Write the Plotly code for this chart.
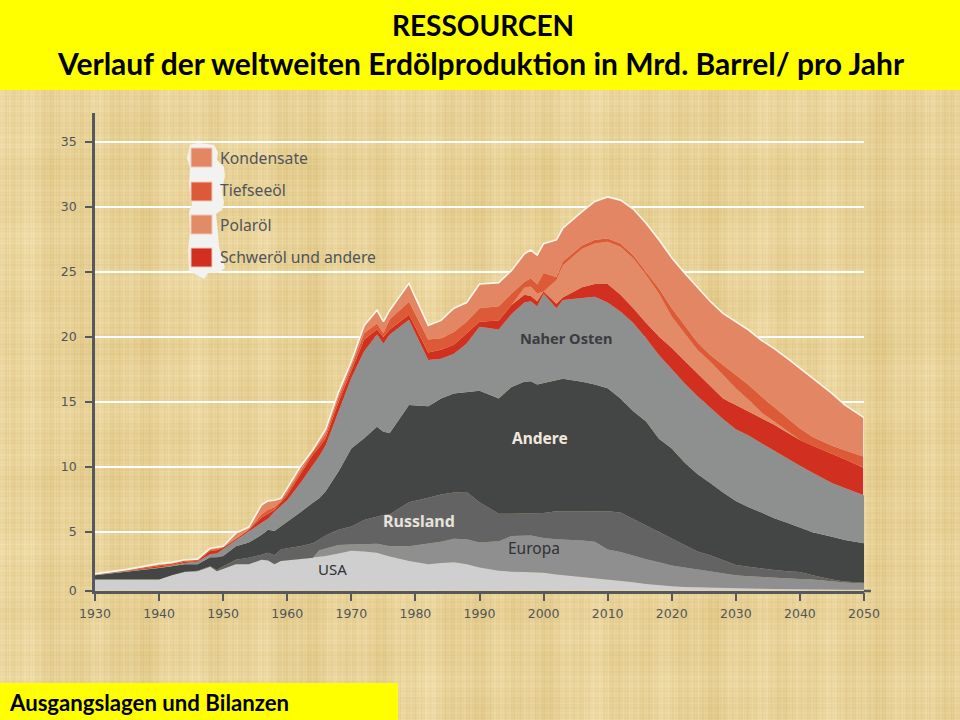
import base64, struct, zlib
import numpy as np
import plotly.graph_objects as go

years = [1930,1935,1940,1942,1944,1946,1948,1949,1950,1952,1954,1956,1957,1958,1959,1960,1962,1964,1965,1966,
         1968,1970,1972,1974,1975,1976,1979,1982,1984,1986,1988,1990,1993,1995,1997,1998,1999,2000,2002,2003,
         2006,2008,2010,2012,2014,2016,2018,2020,2022,2024,2026,2028,2030,2032,2034,2036,2038,2040,2042,2045,
         2047,2050]

# Upper edge of each band (height above the base line)
usa_top = [.85,.85,.86,1.2,1.45,1.5,1.85,1.5,1.7,2.05,2.05,2.4,2.35,2.05,2.3,2.35,2.45,2.55,2.6,2.7,
           2.9,3.1,3.05,2.95,2.8,2.65,2.3,2.05,2.15,2.2,2.05,1.8,1.55,1.47,1.45,1.42,1.4,1.38,1.25,1.2,
           1.05,.95,.87,.75,.65,.5,.4,.33,.28,.25,.22,.18,.17,.15,.13,.12,.1,.1,.08,.07,
           .06,.05]
europa_top = [.85,.85,.86,1.2,1.45,1.5,1.85,1.5,1.7,2.05,2.05,2.4,2.35,2.05,2.3,2.35,2.45,2.55,3.15,3.3,
              3.55,3.6,3.62,3.65,3.55,3.45,3.45,3.65,3.8,4.05,4.0,3.75,3.85,4.25,4.3,4.3,4.2,4.1,4.0,3.98,
              3.9,3.8,3.2,3.0,2.7,2.45,2.2,1.95,1.8,1.65,1.45,1.3,1.2,1.12,1.08,1.02,.96,.9,.85,.7,
              .63,.55]
russland_top = [.85,.85,.86,1.2,1.47,1.55,1.9,1.6,1.9,2.4,2.55,2.8,2.95,2.75,3.2,3.3,3.45,3.7,4.0,4.3,
                4.75,5.0,5.5,5.8,5.9,5.95,6.9,7.25,7.5,7.65,7.7,6.9,6.0,6.0,6.0,6.0,6.0,6.05,6.2,6.2,
                6.2,6.2,6.2,6.1,5.6,5.1,4.6,4.1,3.55,3.05,2.75,2.35,2.0,1.85,1.7,1.6,1.5,1.45,1.2,.85,
                .7,.6]
andere_top = [1.2,1.45,1.75,1.9,2.05,2.05,2.6,2.6,2.7,3.45,3.75,4.35,4.75,4.65,5.0,5.4,6.1,6.85,7.2,7.75,
              9.3,11.1,11.9,12.8,12.4,12.3,14.5,14.4,15.0,15.4,15.5,15.6,15.0,15.9,16.3,16.35,16.1,16.2,16.45,16.55,
              16.3,16.1,15.8,15.0,14.0,13.2,11.85,11.1,10.0,9.1,8.4,7.65,7.0,6.5,6.1,5.65,5.3,4.9,4.55,4.2,
              3.95,3.7]
osten_top = [1.25,1.5,1.8,1.95,2.15,2.25,2.85,2.9,3.25,3.95,4.65,5.3,5.6,6.15,6.6,7.05,8.35,9.8,10.5,11.35,
             14.0,16.6,18.7,20.0,19.3,20.0,21.15,18.0,18.1,18.5,19.3,20.6,20.4,21.6,22.5,22.6,22.2,23.2,22.05,22.7,
             22.85,22.95,22.5,21.8,20.9,19.7,18.4,17.3,16.2,15.2,14.3,13.4,12.6,12.1,11.5,10.9,10.3,9.75,9.2,8.4,
             8.0,7.45]
schwer_top = [1.3,1.55,1.9,2.0,2.25,2.3,3.1,3.15,3.35,4.0,4.75,5.7,6.0,6.3,6.9,7.45,9.05,10.6,11.2,11.9,
              14.7,17.2,19.6,20.4,19.8,20.4,21.55,18.6,18.8,19.2,20.1,21.0,21.1,22.3,23.1,23.0,22.6,23.35,22.4,22.9,
              23.7,23.95,23.95,23.1,22.05,20.9,19.85,18.95,17.95,16.95,16.0,15.0,14.5,14.0,13.5,12.95,12.35,11.75,11.3,10.7,
              10.25,9.57]
polar_top = [1.3,1.55,1.9,2.0,2.25,2.3,3.1,3.15,3.35,4.0,4.75,5.7,6.0,6.3,6.9,7.45,9.05,10.6,11.2,11.9,
             14.7,17.2,19.6,20.4,19.8,20.4,21.55,18.6,18.8,19.2,20.1,21.0,21.1,22.3,23.65,23.75,23.2,23.35,24.25,25.4,
             26.7,27.1,27.25,26.85,25.95,24.65,23.2,21.4,20.1,18.8,17.9,16.85,15.8,14.9,13.9,13.2,12.5,11.75,11.3,10.7,
             10.25,9.57]
tiefsee_top = [1.3,1.6,2.0,2.1,2.35,2.4,3.2,3.25,3.4,4.1,4.75,5.95,6.3,6.5,7.0,7.7,9.3,10.85,11.5,12.2,
               15.1,17.5,20.1,20.85,20.1,21.2,22.55,19.6,19.7,20.2,21.0,22.05,22.2,23.2,24.1,24.4,23.9,24.8,24.5,25.7,
               26.95,27.4,27.5,27.1,26.2,24.9,23.6,22.05,20.75,19.4,18.4,17.6,16.85,16.05,15.15,14.3,13.5,12.65,12.0,11.3,
               10.95,10.45]
kondensate_top = [1.3,1.65,2.1,2.2,2.4,2.45,3.3,3.35,3.45,4.5,4.95,6.7,7.0,7.05,7.2,8.0,9.65,11.0,11.75,12.6,
                  15.5,17.9,20.7,21.9,21.0,21.9,24.0,20.7,21.1,22.05,22.5,23.95,24.05,25.0,26.3,26.6,26.2,27.1,27.4,28.3,
                  29.6,30.4,30.75,30.5,29.8,28.7,27.4,26.0,24.8,23.7,22.6,21.65,21.0,20.35,19.55,18.9,18.15,17.35,16.6,15.4,
                  14.5,13.5]

bands = [
    ("USA", usa_top, "#CFCFCF"),
    ("Europa", europa_top, "#8F8F8F"),
    ("Russland", russland_top, "#636363"),
    ("Andere", andere_top, "#444545"),
    ("Naher Osten", osten_top, "#8E8F8F"),
    ("Schweröl und andere", schwer_top, "#D12F1F"),
    ("Polaröl", polar_top, "#E38A67"),
    ("Tiefseeöl", tiefsee_top, "#DD5A38"),
    ("Kondensate", kondensate_top, "#E38664"),
]
legend_items = [("Kondensate", "#E38664"), ("Tiefseeöl", "#DD5A38"), ("Polaröl", "#E38A67"), ("Schweröl und andere", "#D12F1F")]
band_labels = [("<b>Naher Osten</b>", 2003.5, 19.7, "#3A3C40", 14.6), ("<b>Andere</b>", 1999.4, 11.95, "#EFE9DC", 15.5),
               ("<b>Russland</b>", 1980.5, 5.4, "#E6E3DC", 16), ("Europa", 1998.5, 3.35, "#2F3134", 15.5), ("USA", 1967.1, 1.7, "#2F3134", 15)]
# The source axis is cut off just above 0: its "0" sits half a unit up the regular 5-unit grid
axis_base = 0.5
y_ticks = [axis_base, 5, 10, 15, 20, 25, 30, 35]
y_tick_labels = ["0", "5", "10", "15", "20", "25", "30", "35"]
x_ticks = [1930, 1940, 1950, 1960, 1970, 1980, 1990, 2000, 2010, 2020, 2030, 2040, 2050]

W, H = 960, 720
px = lambda v: v / W
py = lambda v: 1 - v / H
to_axis = lambda v: axis_base + v * 12.8 / 13


def parchment():
    h, w = 630, 960
    xx = np.arange(w)[None, :]
    yy = np.arange(h)[:, None]
    vert = (2.4 * np.sin(xx * 2.1) + 2.4 * np.sin(xx * .83) + 2.5 * np.sin(xx / 5.3 + 2) + 2.0 * np.sin(xx / 13.0)
            + 1.6 * np.sin(xx / 31.0 + 1))
    hori = (2.0 * np.sin(yy * 1.9) + 1.8 * np.sin(yy * .71) + 1.4 * np.sin(yy / 7.1) + 1.0 * np.sin(yy / 23.0 + .5))
    mix = 2.0 * np.sin(xx / 19.0 + yy / 43.0) * np.sin(yy / 27.0 - xx / 37.0)
    v = vert + hori + mix
    rgb = np.stack([232 + .8 * v, 210 + 1.1 * v, 152 + 1.8 * v], axis=-1).clip(0, 255).astype(np.uint8)
    raw = b"".join(b"\x00" + rgb[i].tobytes() for i in range(h))

    def chunk(t, d):
        return struct.pack(">I", len(d)) + t + d + struct.pack(">I", zlib.crc32(t + d) & 0xffffffff)

    png = (b"\x89PNG\r\n\x1a\n" + chunk(b"IHDR", struct.pack(">IIBBBBB", w, h, 8, 2, 0, 0, 0))
           + chunk(b"IDAT", zlib.compress(raw, 6)) + chunk(b"IEND", b""))
    return "data:image/png;base64," + base64.b64encode(png).decode()


fig = go.Figure()
fig.add_trace(go.Scatter(x=years, y=[axis_base] * len(years), mode="lines", line=dict(width=0), hoverinfo="skip", showlegend=False))
for name, top, color in bands:
    fig.add_trace(go.Scatter(x=years, y=[to_axis(v) for v in top], name=name, mode="lines", line=dict(width=0, color=color),
                             fill="tonexty", fillcolor=color, showlegend=False))
fig.add_trace(go.Scatter(x=years, y=[to_axis(v) for v in kondensate_top], mode="lines", line=dict(color="#FBF6EA", width=1.6),
                         hoverinfo="skip", showlegend=False))
fig.add_trace(go.Scatter(x=[years[-1], years[-1]], y=[to_axis(osten_top[-1]), to_axis(kondensate_top[-1])], mode="lines",
                         line=dict(color="#FBF6EA", width=1.6), hoverinfo="skip", showlegend=False))

shapes = [
    dict(type="rect", xref="paper", yref="paper", x0=0, x1=1, y0=py(90), y1=1, fillcolor="#FFFF00", line_width=0, layer="below"),
    dict(type="rect", xref="paper", yref="paper", x0=0, x1=px(398), y0=0, y1=py(683), fillcolor="#FFFF00", line_width=0, layer="above"),
    dict(type="line", xref="paper", yref="paper", x0=px(864), x1=px(871), y0=py(591), y1=py(591), line=dict(color="#55585C", width=2.5)),
    # torn white backing of the legend swatches
    dict(type="path", xref="paper", yref="paper", layer="above", fillcolor="#F2F2F0", line_width=0,
         path="M {} {} ".format(px(190), py(145)) + " ".join("L {} {}".format(px(a), py(b)) for a, b in [
             (198, 143), (214, 145), (218, 152), (217, 160), (224, 167), (225, 176), (222, 190), (224, 203),
             (222, 210), (216, 214), (218, 232), (219, 246), (225, 268), (218, 273), (208, 273), (204, 279), (195, 274),
             (189, 271), (188, 250), (190, 232), (189, 212), (192, 205), (189, 185), (190, 168), (187, 158)]) + " Z"),
]
annotations = []
swatch_tops = [148, 182, 215, 248]
label_rows = [158, 190, 225, 257]
for (label, color), t, row in zip(legend_items, swatch_tops, label_rows):
    shapes.append(dict(type="rect", xref="paper", yref="paper", layer="above", x0=px(191), x1=px(212),
                       y0=py(t), y1=py(t + 19), fillcolor=color, line=dict(color="#EFC9B8", width=1)))
    annotations.append(dict(xref="paper", yref="paper", x=px(218), y=py(row), xanchor="left", yanchor="middle",
                            text=label, showarrow=False, font=dict(family="Noto Sans", size=15.7, color="#50555A")))
for text, x, y, color, size in band_labels:
    annotations.append(dict(x=x, y=to_axis(y), xref="x", yref="y", text=text, showarrow=False,
                            font=dict(family="Noto Sans", size=size, color=color)))
annotations += [
    dict(xref="paper", yref="paper", x=px(483), y=py(25), text="<b>RESSOURCEN</b>", showarrow=False, yanchor="middle",
         font=dict(family="Lato", size=28, color="#000000")),
    dict(xref="paper", yref="paper", x=px(481), y=py(63), text="<b>Verlauf der weltweiten Erdölproduktion in Mrd. Barrel/ pro Jahr</b>",
         showarrow=False, yanchor="middle", font=dict(family="Lato", size=30, color="#000000")),
    dict(xref="paper", yref="paper", x=px(7), y=py(702), text="<b>Ausgangslagen und Bilanzen</b>", xanchor="left", yanchor="middle",
         showarrow=False, font=dict(family="Lato", size=22.2, color="#000000")),
]

fig.update_layout(
    width=W, height=H, margin=dict(l=0, r=0, t=0, b=0), autosize=False, showlegend=False,
    paper_bgcolor="#E8D298", plot_bgcolor="rgba(0,0,0,0)", shapes=shapes, annotations=annotations,
    images=[dict(source=parchment(), xref="paper", yref="paper", x=0, y=py(90), sizex=1, sizey=630 / H,
                 xanchor="left", yanchor="top", sizing="stretch", layer="below")],
    xaxis=dict(domain=[px(95), px(864)], range=[1930, 2050], tickvals=x_ticks, ticks="outside", ticklen=8, tickwidth=2,
               automargin=False, tickcolor="#55585C", linecolor="#55585C", linewidth=2.5, showline=True, showgrid=False, zeroline=False,
               ticklabelstandoff=2, tickfont=dict(family="DejaVu Sans", size=12.5, color="#50555A"), anchor="y"),
    yaxis=dict(domain=[py(590.5), py(113)], range=[axis_base, (597 - 113) / 13], tickvals=y_ticks, ticktext=y_tick_labels, ticks="outside", ticklen=7, tickwidth=2,
               automargin=False, tickcolor="#55585C", linecolor="#55585C", linewidth=2.5, showline=True, showgrid=True, gridcolor="#FFFFFF",
               gridwidth=1.6, zeroline=False, ticklabelstandoff=6, tickfont=dict(family="DejaVu Sans", size=12.5, color="#50555A"), anchor="x"),
)
fig.write_html("out.html", config=dict(displayModeBar=False), post_script="document.body.style.margin='0';")
